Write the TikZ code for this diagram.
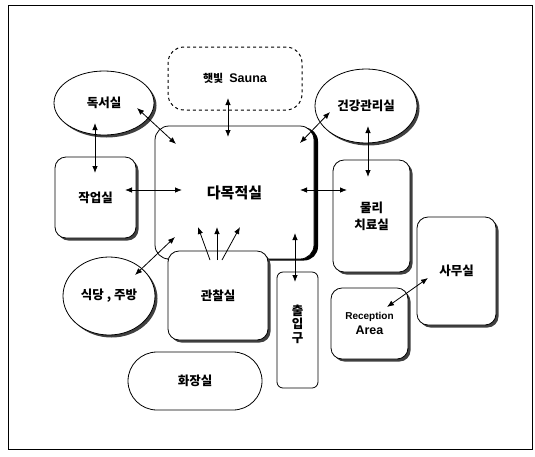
\documentclass[tikz,border=0pt]{standalone}
\usepackage{fontspec}
\newfontfamily\kr{Noto Sans CJK KR}
\newfontfamily\lat{Liberation Sans}
\usetikzlibrary{shapes.geometric,arrows.meta,shadows,calc}
\begin{document}
\begin{tikzpicture}[x=1pt,y=-1pt,
  room/.style={draw,line width=0.8pt,fill=white,rectangle,rounded corners=11pt,inner sep=0pt,font=\kr\bfseries\fontsize{12.5}{15}\selectfont,align=center},
  oval/.style={draw,line width=0.8pt,fill=white,ellipse,inner sep=0pt,font=\kr\bfseries\fontsize{12.5}{15}\selectfont},
  shad/.style={drop shadow={shadow xshift=2.5pt,shadow yshift=-2.5pt,fill=black!75,opacity=1}},
  bishad/.style={drop shadow={shadow xshift=4pt,shadow yshift=-1.5pt,fill=black,opacity=1}},
  dbl/.style={line width=0.8pt,{Latex[length=7pt,width=5.5pt]}-{Latex[length=7pt,width=5.5pt]}},
  sgl/.style={line width=0.8pt,-{Latex[length=7pt,width=5.5pt]}}]
\useasboundingbox (0,0) rectangle (535,456);
\draw[line width=1pt] (8,5) rectangle (532,449);
% nodes
\node[room,dashed,line width=1pt,rounded corners=16pt,minimum width=134pt,minimum height=63pt] (sauna) at (235,78.5)
  {{\kr\bfseries\fontsize{11}{12}\selectfont 햇빛}\hspace{6pt}{\lat\bfseries\fontsize{12.5}{14}\selectfont Sauna}};
\node[oval,shad,minimum width=100pt,minimum height=64pt] (dok) at (104,103) {독서실};
\node[oval,shad,minimum width=102pt,minimum height=74pt] (gun) at (366,106) {건강관리실};
\node[room,shad,minimum width=81pt,minimum height=81pt] (jak) at (95.5,197.5) {작업실};
\node[room,bishad,rounded corners=14pt,minimum width=159pt,minimum height=133pt,font=\kr\bfseries\fontsize{15}{17}\selectfont] (cen) at (234.5,192.5) {다목적실};
\node[room,shad,minimum width=100pt,minimum height=89pt] (gwan) at (218,295.5) {관찰실};
\node[room,shad,minimum width=77pt,minimum height=112pt] (mul) at (371.5,216) {물리\\[2pt]치료실};
\node[room,shad,minimum width=79pt,minimum height=108pt] (samu) at (456.5,271) {사무실};
\node[room,shad,minimum width=77pt,minimum height=71pt,font=\lat\bfseries] (recep) at (369.5,323.5)
  {{\fontsize{10}{12}\selectfont Reception}\\[3pt]{\fontsize{12.5}{14}\selectfont Area}};
\node[room,rounded corners=6pt,minimum width=41pt,minimum height=116pt] (chul) at (297.5,330) {};
\node[font=\kr\bfseries\fontsize{12.5}{13.5}\selectfont,align=center,inner sep=0pt] (chult) at ($(chul.center)+(0,-6)$) {출\\입\\구};
\node[oval,shad,minimum width=92pt,minimum height=78pt] (sik) at (109,296) {식당 , 주방};
\node[room,rounded corners=29pt,minimum width=134pt,minimum height=58pt] (hwa) at (195,381) {화장실};
% connectors
\draw[dbl] ($(dok.center)+(33,5)$) -- ($(cen.center)+(-58.5,-48.5)$);
\draw[dbl] ($(dok.center)+(-9,20)$) -- ($(jak.center)+(-0.5,-24.5)$);
\draw[dbl] ($(sauna.center)+(-7,19.5)$) -- ($(cen.center)+(-6.5,-55.5)$);
\draw[dbl] ($(jak.center)+(29.5,-7.5)$) -- ($(cen.center)+(-52.5,-2.5)$);
\draw[dbl] ($(gun.center)+(-36,6)$) -- ($(cen.center)+(65.5,-49.5)$);
\draw[dbl] ($(gun.center)+(2,20)$) -- ($(mul.center)+(-3.5,-39)$);
\draw[dbl] ($(cen.center)+(65.5,-2.5)$) -- ($(mul.center)+(-24.5,-26)$);
\draw[dbl] ($(sik.center)+(26,-21)$) -- ($(cen.center)+(-59.5,44.5)$);
\draw[sgl] ($(gwan.center)+(-8,-35.5)$) -- ($(cen.center)+(-36.5,34.5)$);
\draw[sgl] ($(gwan.center)+(-1,-35.5)$) -- ($(cen.center)+(-17.5,34.5)$);
\draw[sgl] ($(gwan.center)+(4,-35.5)$) -- ($(cen.center)+(5.5,34.5)$);
\draw[dbl] ($(cen.center)+(60.5,40.5)$) -- ($(chul.center)+(-2.5,-48)$);
\draw[dbl] ($(samu.center)+(-28.5,7)$) -- ($(recep.center)+(17.5,-16.5)$);
\end{tikzpicture}
\end{document}
